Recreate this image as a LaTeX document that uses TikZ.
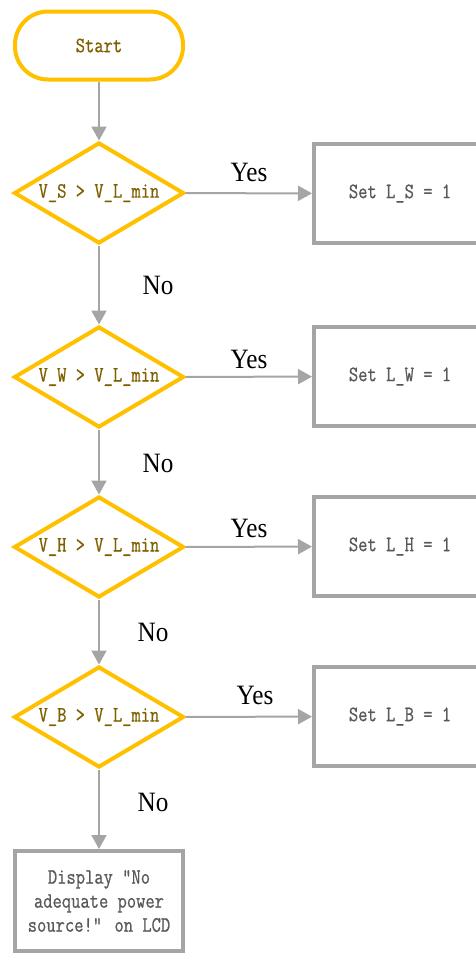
\documentclass[tikz,border=0pt]{standalone}
\usepackage{fontspec}
\newfontfamily\labfont[FakeStretch=0.9]{Liberation Serif}
\newfontfamily\boxfont[FakeStretch=0.82,FakeBold=0.8]{Latin Modern Mono}
\usetikzlibrary{shapes.geometric,arrows.meta}
\definecolor{gold}{HTML}{FFC000}
\definecolor{goldtext}{HTML}{7F6000}
\definecolor{arrowgray}{HTML}{A5A5A5}
\definecolor{boxtext}{HTML}{595959}
\tikzset{
  every node/.style={font=\boxfont\fontsize{22}{24}\selectfont},
  startbox/.style={draw=gold, line width=4pt, rounded corners=33pt, minimum width=168pt, minimum height=68pt, text=goldtext, inner sep=0pt},
  dia/.style={draw=gold, line width=4pt, diamond, aspect=1.75, inner sep=0pt, minimum width=170pt, minimum height=101pt, text=goldtext},
  actbox/.style={draw=arrowgray, line width=4pt, minimum width=172pt, minimum height=99pt, text=boxtext, inner sep=0pt},
  conn/.style={draw=arrowgray, line width=2pt, -{Triangle[width=15pt,length=14pt]}},
  lbl/.style={font=\labfont\fontsize{28}{30}\selectfont, text=black}
}
\begin{document}
\begin{tikzpicture}[x=1pt,y=-1pt]
\useasboundingbox (0,0) rectangle (476,954);
\clip (0,0) rectangle (476,954);
\node[startbox] (start) at (99,45.5) {Start};
\node[dia] (d1) at (99,193) {V\_S > V\_L\_min};
\node[dia] (d2) at (99,377) {V\_W > V\_L\_min};
\node[dia] (d3) at (99,547) {V\_H > V\_L\_min};
\node[dia] (d4) at (99,717) {V\_B > V\_L\_min};
\node[actbox] (b1) at (400,193.5) {Set L\_S = 1};
\node[actbox] (b2) at (400,376.5) {Set L\_W = 1};
\node[actbox] (b3) at (400,546.5) {Set L\_H = 1};
\node[actbox] (b4) at (400,716.5) {Set L\_B = 1};
\node[actbox, minimum width=168pt, minimum height=100pt, align=center] (disp) at (99,901) {Display ”No\\adequate power\\source!” on LCD};
\draw[conn] (start) -- (d1);
\draw[conn] (d1) -- (d2);
\draw[conn] (d2) -- (d3);
\draw[conn] (d3) -- (d4);
\draw[conn] (d4) -- (disp);
\draw[conn] (d1) -- (b1);
\draw[conn] (d2) -- (b2);
\draw[conn] (d3) -- (b3);
\draw[conn] (d4) -- (b4);
\node[lbl] (y1) at (249,172) {Yes};
\node[lbl] (y2) at (249,359) {Yes};
\node[lbl] (y3) at (249,528) {Yes};
\node[lbl] (y4) at (255,695) {Yes};
\node[lbl] (n1) at (158,285) {No};
\node[lbl] (n2) at (158,463) {No};
\node[lbl] (n3) at (153,632) {No};
\node[lbl] (n4) at (153,802) {No};
\end{tikzpicture}
\end{document}
